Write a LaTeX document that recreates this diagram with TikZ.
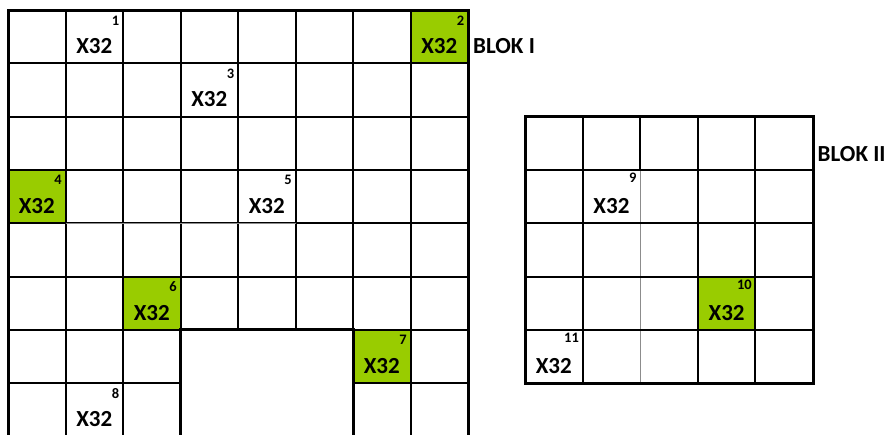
\documentclass[tikz,border=0pt]{standalone}
\usepackage{fontspec}
\setmainfont{Carlito}
\definecolor{cellgreen}{RGB}{153,204,0}
\begin{document}
\begin{tikzpicture}[x=1pt,y=-1pt,
  inner/.style={line width=2pt,black},
  outer/.style={line width=3pt,black,line join=miter},
  faint/.style={line width=1.2pt,black!45},
  hit/.style={fill=cellgreen},
  big/.style={font=\fontsize{23}{27}\selectfont\bfseries,inner sep=0pt,anchor=base},
  num/.style={font=\fontsize{14.5}{17}\selectfont\bfseries,inner sep=0pt,anchor=base east},
  blok/.style={font=\fontsize{23}{27}\selectfont\bfseries,inner sep=0pt,anchor=base west}]
\useasboundingbox (0,0) rectangle (890,434);
\clip (0,0) rectangle (890,434);
% green cells
\fill[hit] (410.5,10) rectangle (468,63.3);
\fill[hit] (8,169.9) rectangle (65.5,223.2);
\fill[hit] (123,276.5) rectangle (180.5,329.8);
\fill[hit] (353,329.8) rectangle (410.5,383.1);
\fill[hit] (697.8,276.5) rectangle (755.4,329.8);
% BLOK I grid: vertical lines
\foreach \x in {65.5,123,180.5,353,410.5} \draw[inner] (\x,10) -- (\x,440);
\foreach \x in {238,295.5} \draw[inner] (\x,10) -- (\x,329.8);
% horizontal lines
\foreach \y in {63.3,116.6,169.9,223.2,276.5,329.8} \draw[inner] (8,\y) -- (468,\y);
\draw[inner] (8,383.1) -- (180.5,383.1);
\draw[inner] (353,383.1) -- (468,383.1);
\draw[faint] (65.5,223.2) -- (295.5,223.2);
% empty region border
\draw[outer] (180.5,440) -- (180.5,329.8) -- (353,329.8) -- (353,440);
% outer border
\draw[outer] (8,440) -- (8,10) -- (468,10) -- (468,440);
% BLOK II grid
\foreach \x in {582.6,697.8,755.4} \draw[inner] (\x,116.6) -- (\x,383.1);
\draw[inner] (640.2,116.6) -- (640.2,169.9);
\draw[faint] (640.2,169.9) -- (640.2,383.1);
\foreach \y in {169.9,223.2,276.5,329.8} \draw[inner] (525,\y) -- (813,\y);
\draw[outer] (525,116.6) rectangle (813,383.1);
% labels
\node[big] (x1) at (94.25,53.5) {X32};
\node[num] (n1) at (119.5,25) {1};
\node[big] (x2) at (439.25,53.5) {X32};
\node[num] (n2) at (464.5,25) {2};
\node[big] (x3) at (209.25,106.8) {X32};
\node[num] (n3) at (234.5,78.3) {3};
\node[big] (x4) at (36.75,213.4) {X32};
\node[num] (n4) at (62,184.9) {4};
\node[big] (x5) at (266.75,213.4) {X32};
\node[num] (n5) at (292,184.9) {5};
\node[big] (x6) at (151.75,320) {X32};
\node[num] (n6) at (177,291.5) {6};
\node[big] (x7) at (381.75,373.3) {X32};
\node[num] (n7) at (407,344.8) {7};
\node[big] (x8) at (94.25,426.6) {X32};
\node[num] (n8) at (119.5,398.1) {8};
\node[big] (x9) at (611.4,213.4) {X32};
\node[num] (n9) at (636.7,182.4) {9};
\node[big] (x10) at (726.6,320) {X32};
\node[num] (n10) at (751.9,289) {10};
\node[big] (x11) at (553.8,373.3) {X32};
\node[num] (n11) at (579.1,342.3) {11};
\node[blok] (b1) at (473,53.5) {BLOK I};
\node[blok] (b2) at (817.5,161.5) {BLOK II};
\end{tikzpicture}
\end{document}
